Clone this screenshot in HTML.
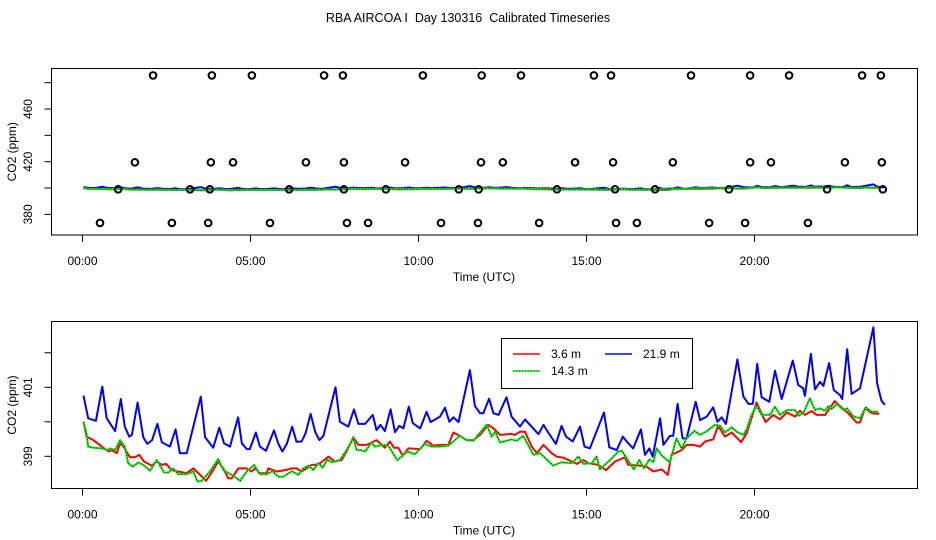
<!DOCTYPE html>
<html><head><meta charset="utf-8"><style>
body{margin:0;background:#fff}
svg{display:block;font-family:"Liberation Sans",sans-serif}
</style></head><body>
<svg id="chart" width="936" height="540" viewBox="0 0 936 540" xmlns="http://www.w3.org/2000/svg">
<rect width="936" height="540" fill="#fff"/>
<text x="468" y="22" font-size="12.5" text-anchor="middle" style="white-space:pre" xml:space="preserve">RBA AIRCOA I  Day 130316  Calibrated Timeseries</text>
<g id="top"></g>
<g id="bot"></g>
</svg>
<script>
const xTickHours=[0,5,10,15,20];
const xTickLabels=["00:00","05:00","10:00","15:00","20:00"];
const topYTicks=[380,400,420,440,460,480];
const topYLabels=["380","","420","","460",""];
const botYTicks=[399,400,401,402];
const botYLabels=["399","","401",""];

const blueT=[0.03,0.17,0.40,0.59,0.72,0.97,1.14,1.26,1.39,1.47,1.64,1.81,1.93,2.07,2.23,2.36,2.60,2.77,2.90,3.10,3.52,3.65,3.89,4.07,4.21,4.39,4.63,4.74,4.89,4.98,5.16,5.28,5.46,5.70,5.83,5.95,6.08,6.24,6.37,6.52,6.64,6.79,6.93,7.05,7.17,7.53,7.66,7.91,8.08,8.21,8.41,8.64,8.75,8.87,9.00,9.17,9.30,9.43,9.55,9.71,9.83,10.05,10.24,10.36,10.64,10.79,10.92,11.04,11.19,11.53,11.68,11.83,11.93,12.10,12.23,12.38,12.62,12.77,13.02,13.17,13.57,13.72,13.86,14.09,14.26,14.39,14.59,14.81,14.94,15.10,15.52,15.68,15.90,16.08,16.24,16.39,16.62,16.74,16.87,16.97,17.19,17.29,17.48,17.58,17.71,17.86,17.98,18.25,18.38,18.58,18.77,18.90,19.02,19.15,19.49,19.67,19.82,19.95,20.08,20.21,20.44,20.61,20.81,21.14,21.30,21.45,21.50,21.68,21.80,21.95,22.05,22.22,22.36,22.54,22.61,22.76,22.89,23.14,23.54,23.65,23.78,23.88];
const blueV=[400.76,400.10,400.03,401.02,400.10,399.73,400.66,399.86,399.57,399.62,400.56,399.55,399.36,399.47,399.94,399.41,399.28,399.78,399.09,399.09,400.73,399.55,399.25,399.83,399.38,399.28,400.13,399.38,399.21,399.21,399.69,399.28,399.16,399.75,399.36,399.14,399.36,399.86,399.42,399.43,399.67,400.23,399.70,399.47,399.59,401.00,400.00,399.86,400.36,399.94,399.94,400.20,399.76,399.91,399.73,400.36,399.70,399.88,399.81,400.44,399.96,399.81,400.29,399.99,400.15,400.41,400.00,400.13,399.99,401.50,400.46,400.25,400.25,400.67,400.25,400.20,400.71,400.15,399.86,400.07,399.64,399.91,399.69,399.36,399.88,399.57,399.43,399.86,399.28,399.23,400.27,399.26,399.18,399.57,399.38,399.23,399.78,399.04,399.23,398.99,400.10,399.33,399.59,399.59,400.52,399.52,399.52,400.58,400.05,400.15,400.42,400.00,400.13,399.94,401.81,400.73,400.52,400.52,401.68,400.71,400.58,401.48,400.66,401.77,401.07,400.97,400.75,401.97,400.94,401.16,401.04,401.70,400.92,400.78,400.66,402.10,400.81,400.97,402.74,401.12,400.61,400.49];

const redT=[0.03,0.12,0.32,0.57,0.77,0.87,1.02,1.12,1.22,1.41,1.56,1.69,1.83,2.06,2.21,2.36,2.49,2.65,2.85,3.10,3.30,3.50,3.68,3.89,4.04,4.19,4.34,4.44,4.64,4.89,5.03,5.13,5.28,5.48,5.53,5.78,6.03,6.23,6.37,6.52,6.67,6.82,6.92,7.07,7.32,7.51,7.71,7.86,8.06,8.21,8.46,8.75,9.00,9.15,9.27,9.40,9.53,9.70,10.05,10.24,10.44,10.64,10.89,11.04,11.23,11.43,11.63,11.83,12.08,12.23,12.43,12.77,12.87,13.02,13.17,13.37,13.52,13.72,13.96,14.11,14.31,14.56,14.71,14.91,15.05,15.35,15.58,15.85,16.14,16.24,16.59,16.79,16.99,17.24,17.42,17.53,17.83,17.98,18.18,18.38,18.53,18.77,18.92,19.12,19.32,19.60,19.77,20.06,20.33,20.56,20.76,20.96,21.21,21.35,21.50,21.70,21.85,22.10,22.39,22.54,22.79,23.04,23.14,23.29,23.49,23.71];
const redV=[400.00,399.57,399.47,399.28,399.14,399.18,399.09,399.38,399.28,398.97,398.97,399.04,398.85,398.73,398.85,398.75,398.78,398.60,398.56,398.51,398.65,398.46,398.29,398.60,398.85,398.65,398.36,398.36,398.65,398.65,398.56,398.65,398.51,398.51,398.65,398.56,398.60,398.65,398.65,398.56,398.65,398.75,398.75,398.80,398.99,398.85,398.89,399.14,399.55,399.33,399.33,399.47,399.25,399.43,399.25,399.25,399.02,399.23,399.21,399.45,399.31,399.33,399.33,399.69,399.59,399.47,399.47,399.62,399.91,399.81,399.62,399.65,399.62,399.71,399.71,399.28,399.09,399.33,399.09,398.99,398.96,398.85,398.78,398.89,398.80,398.75,398.60,398.85,398.97,398.75,398.73,398.70,398.56,398.62,398.46,399.04,399.18,399.33,399.33,399.28,399.43,399.49,399.88,399.57,399.69,399.41,399.67,400.56,399.99,400.20,400.07,400.27,400.15,400.32,400.20,400.31,400.20,400.20,400.60,400.46,400.25,399.98,399.98,400.39,400.25,400.23];

const greenT=[0.03,0.12,0.17,0.32,0.57,0.72,0.82,0.97,1.12,1.26,1.36,1.49,1.66,1.81,2.01,2.21,2.43,2.55,2.70,2.85,3.10,3.30,3.42,3.55,3.79,4.04,4.19,4.44,4.69,4.89,5.11,5.28,5.48,5.65,5.83,5.98,6.23,6.42,6.57,6.72,6.87,7.02,7.15,7.29,7.42,7.66,7.86,8.06,8.16,8.28,8.41,8.61,8.70,8.95,9.10,9.37,9.50,9.67,9.89,10.19,10.39,10.64,10.89,11.23,11.43,11.63,12.03,12.18,12.28,12.43,12.77,12.92,13.12,13.42,13.62,14.01,14.26,14.56,14.76,14.91,15.16,15.30,15.40,15.70,15.95,16.05,16.20,16.41,16.57,16.71,16.87,16.99,17.09,17.24,17.48,17.68,17.83,17.98,18.21,18.38,18.58,18.82,18.97,19.12,19.32,19.47,19.67,19.77,19.91,20.06,20.21,20.46,20.61,20.76,20.96,21.21,21.31,21.46,21.65,21.80,21.95,22.10,22.20,22.30,22.45,22.65,22.75,22.95,23.14,23.31,23.49,23.68];
const greenV=[400.00,399.67,399.28,399.25,399.23,399.18,399.23,399.18,399.47,399.28,398.80,398.70,398.82,398.75,398.58,398.89,398.53,398.53,398.65,398.48,398.48,398.56,398.27,398.29,398.56,398.92,398.60,398.46,398.29,398.56,398.75,398.48,398.48,398.57,398.41,398.41,398.57,398.46,398.65,398.73,398.60,398.80,398.67,398.91,398.83,398.89,399.18,399.52,399.18,399.18,399.14,399.40,399.28,399.33,399.31,398.89,398.99,399.14,399.06,399.36,399.28,399.28,399.31,399.59,399.47,399.45,399.92,399.57,399.71,399.40,399.49,399.45,399.59,399.04,399.09,398.73,398.83,398.80,398.99,398.78,398.80,398.99,398.62,398.89,399.14,399.16,398.94,398.62,398.89,398.65,398.91,398.83,399.23,399.02,398.83,399.52,399.23,399.52,399.74,399.62,399.73,399.91,399.89,399.69,399.84,399.71,399.62,399.79,400.20,400.46,400.20,400.20,400.44,400.20,400.34,400.34,400.17,400.27,400.68,400.34,400.39,400.32,400.46,400.37,400.52,400.34,400.39,400.15,400.10,400.42,400.29,400.29];

const flagT=[2.10,3.85,5.04,7.19,7.75,10.13,11.88,13.05,15.22,15.73,18.11,19.87,21.03,23.20,23.76,
1.56,3.82,4.48,6.65,7.78,9.60,11.86,12.51,14.66,15.79,17.57,19.87,20.49,22.69,23.79,
1.06,3.20,3.79,6.15,7.78,9.03,11.20,11.79,14.12,15.85,17.04,19.24,22.16,23.82,
0.52,2.66,3.74,5.58,7.87,8.50,10.67,11.77,13.59,15.88,16.50,18.65,19.72,21.59];
const flagV=[485.5,485.5,485.5,485.5,485.5,485.5,485.5,485.5,485.5,485.5,485.5,485.5,485.5,485.5,485.5,
419.5,419.5,419.5,419.5,419.5,419.5,419.5,419.5,419.5,419.5,419.5,419.5,419.5,419.5,419.5,
399,399,399,399,399,399,399,399,399,399,399,399,399,399,
373.5,373.5,373.5,373.5,373.5,373.5,373.5,373.5,373.5,373.5,373.5,373.5,373.5,373.5];

const NS="http://www.w3.org/2000/svg";
function mk(parent,tag,attrs){const e=document.createElementNS(NS,tag);for(const k in attrs)e.setAttribute(k,attrs[k]);parent.appendChild(e);return e;}
const X0=82.5,XPH=33.6,L=51.5,R=917.5;
const xs=h=>X0+h*XPH;

function panel(g,top,bot,ys,yTicks,yLabels,id){
  const clip=mk(g,'clipPath',{id:'clip'+id});
  mk(clip,'rect',{x:L,y:top,width:R-L,height:bot-top});
  const frame=mk(g,'rect',{x:L,y:top,width:R-L,height:bot-top,fill:'none',stroke:'#000','stroke-width':1});
  
  
  xTickHours.forEach((h,i)=>{
    const t=mk(g,'line',{x1:xs(h),x2:xs(h),y1:bot,y2:bot+7,stroke:'#000'});
    
    
    const l=mk(g,'text',{x:xs(h),y:bot+30,'font-size':12,'text-anchor':'middle'});
    l.textContent=xTickLabels[i];
    
    
  });
  yTicks.forEach((v,i)=>{
    const t=mk(g,'line',{x1:L-7,x2:L,y1:ys(v),y2:ys(v),stroke:'#000'});
    
    
    if(yLabels[i]){
      const l=mk(g,'text',{x:0,y:0,'font-size':12,'text-anchor':'middle',transform:`translate(32,${ys(v)}) rotate(-90)`});
      l.textContent=yLabels[i];
      
      
    }
  });
  const xt=mk(g,'text',{x:484,y:bot+46,'font-size':12,'text-anchor':'middle'});
  xt.textContent='Time (UTC)';
  
  
  const yt=mk(g,'text',{x:0,y:0,'font-size':12,'text-anchor':'middle',transform:`translate(16,${(top+bot)/2}) rotate(-90)`});
  yt.textContent='CO2 (ppm)';
  
  
  const data=mk(g,'g',{'clip-path':`url(#clip${id})`});
  
  
  const pts=(T,V)=>T.map((t,i)=>xs(t).toFixed(1)+','+ys(V[i]).toFixed(1)).join(' ');
  const b=mk(data,'polyline',{points:pts(blueT,blueV),fill:'none',stroke:'#0000ff','stroke-width':2,'stroke-linejoin':'round'});
  
  
  const r=mk(data,'polyline',{points:pts(redT,redV),fill:'none',stroke:'#ff0000','stroke-width':2,'stroke-linejoin':'round'});
  
  
  const gr=mk(data,'polyline',{points:pts(greenT,greenV),fill:'none',stroke:'#00ee00','stroke-width':2,'stroke-linejoin':'round'});
  
  
  const gd=mk(data,'polyline',{points:pts(greenT,greenV),fill:'none',stroke:'#000','stroke-width':0.8,'stroke-dasharray':'1 2'});
  
  
  return data;
}

const topG=document.getElementById('top');
const ysTop=v=>161.7-(v-420)*1.317;
const dTop=panel(topG,68.5,235,ysTop,topYTicks,topYLabels,'t');
flagT.forEach((t,i)=>{
  const c=mk(dTop,'circle',{cx:xs(t),cy:ysTop(flagV[i]),r:3.3,fill:'none',stroke:'#000','stroke-width':2});
  
  
});

const botG=document.getElementById('bot');
const ysBot=v=>456.3-(v-399)*34.5;
panel(botG,321.5,488.5,ysBot,botYTicks,botYLabels,'b');

const lg=mk(botG,'g',{});


mk(lg,'rect',{x:501.5,y:338.5,width:191,height:50,fill:'#fff',stroke:'#000'});
const entries=[["3.6 m","#ff0000",513,354],["21.9 m","#0000ff",605,354],["14.3 m","#00ee00",513,371]];
entries.forEach(e=>{
  const eg=mk(lg,'g',{});
  
  
  mk(eg,'line',{x1:e[2],x2:e[2]+27,y1:e[3],y2:e[3],stroke:e[1],'stroke-width':1.5});
  if(e[0]==="14.3 m")mk(eg,'line',{x1:e[2],x2:e[2]+27,y1:e[3],y2:e[3],stroke:'#000','stroke-width':0.7,'stroke-dasharray':'1 2'});
  const t=mk(eg,'text',{x:e[2]+38,y:e[3]+4,'font-size':12});
  t.textContent=e[0];
});
</script>
</body></html>
